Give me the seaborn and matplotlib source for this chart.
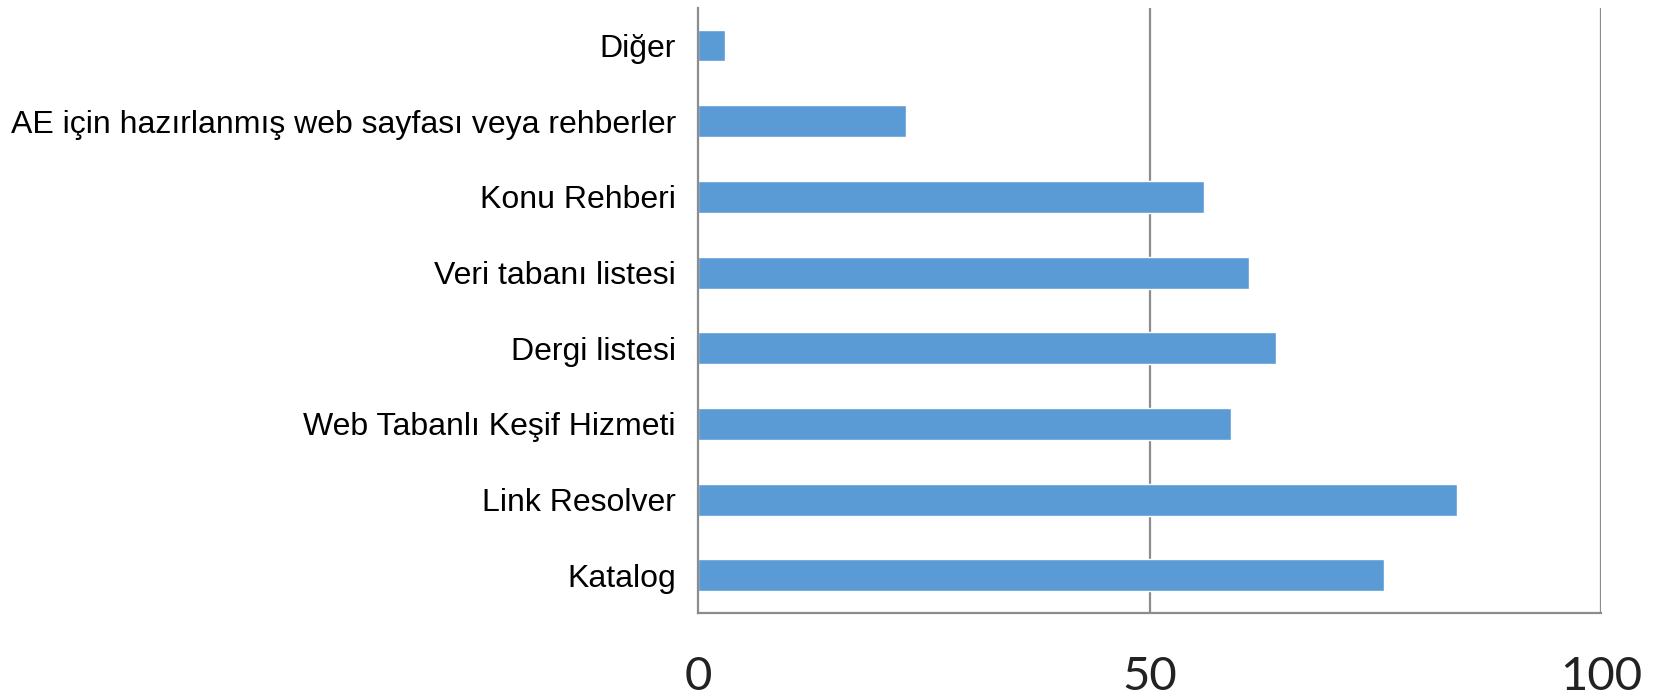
import pandas as pd
import matplotlib
matplotlib.use("Agg")
import matplotlib.pyplot as plt
import seaborn as sns

# --- Dados ---
categories = [
    "Diğer",
    "AE için hazırlanmış web sayfası veya rehberler",
    "Konu Rehberi",
    "Veri tabanı listesi",
    "Dergi listesi",
    "Web Tabanlı Keşif Hizmeti",
    "Link Resolver",
    "Katalog",
]
values = [3, 23, 56, 61, 64, 59, 84, 76]
x_ticks = [0, 50, 100]

df = pd.DataFrame({"kategori": categories, "deger": values})

sns.set_style("white")
plt.rcParams["font.family"] = ["Liberation Sans", "DejaVu Sans"]

fig = plt.figure(figsize=(16.62, 7.0), dpi=100)
ax = fig.add_axes([0.42, 0.124, 0.5433, 0.865])

sns.barplot(data=df, x="deger", y="kategori", order=categories, orient="h",
            color="#5B9BD5", saturation=1, width=0.42, ax=ax)

ax.set_xlim(0, 100)
ax.set_ylim(len(categories) - 0.5, -0.5)
ax.set_xticks(x_ticks)
ax.set_xticklabels([str(t) for t in x_ticks], fontsize=34, family=["Lato", "DejaVu Sans"])
ax.tick_params(axis="x", length=0, pad=31, colors="#222222")
ax.tick_params(axis="y", length=0, pad=16, labelsize=23, colors="black")
ax.set_xlabel("")
ax.set_ylabel("")

# dikey kılavuz çizgileri
for t in x_ticks[1:]:
    ax.axvline(t, color="#8c8c8c", lw=1.6, zorder=0)

sns.despine(ax=ax, top=True, right=True)
for s in ["left", "bottom"]:
    ax.spines[s].set_color("#8c8c8c")
    ax.spines[s].set_linewidth(1.6)

fig.savefig("out.png", dpi=100)
